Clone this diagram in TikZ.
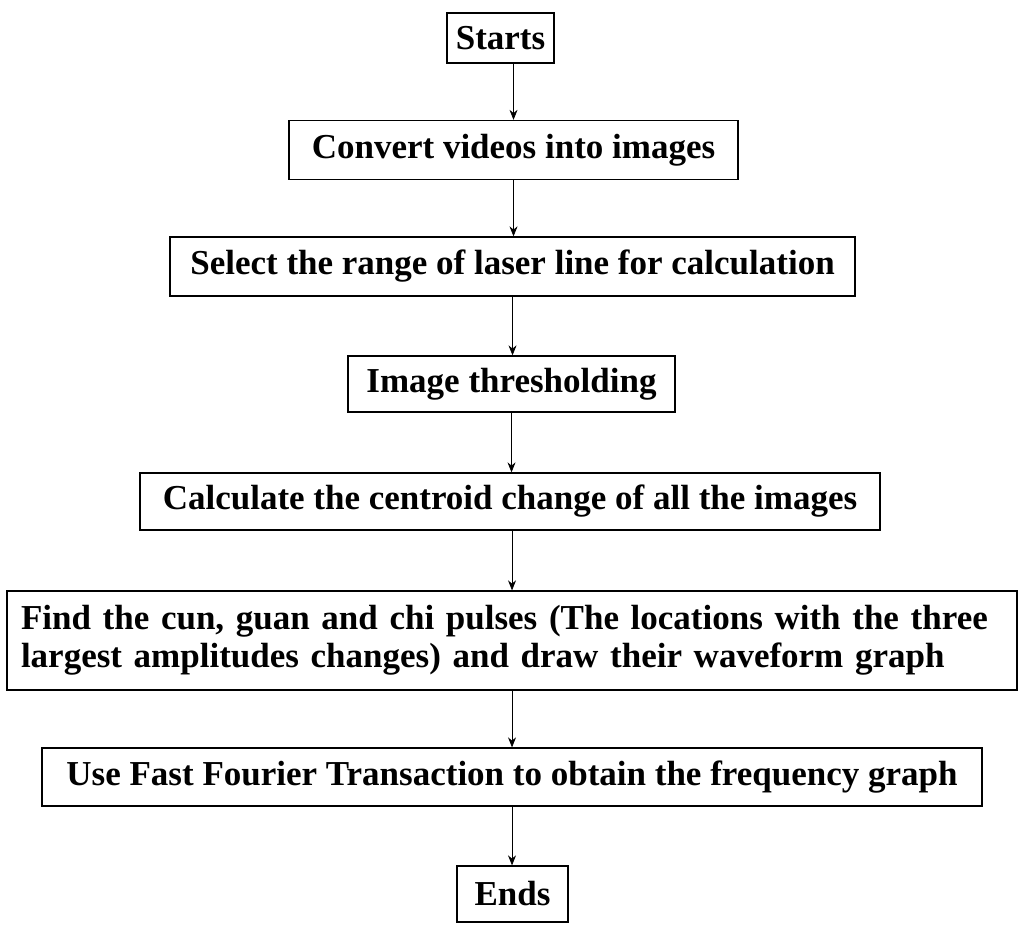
\documentclass[tikz,border=0pt]{standalone}
\usepackage{fontspec}
\setmainfont{Liberation Serif}
\usetikzlibrary{arrows.meta}
\begin{document}
\begin{tikzpicture}[x=1pt,y=-1pt,
 box/.style={draw,line width=1.3pt,font=\bfseries\fontsize{35}{38}\selectfont,inner sep=0pt,align=center},
 arr/.style={-{Stealth[length=10pt,width=8pt]},line width=0.8pt}]
\useasboundingbox (0,0) rectangle (1024,933);
\node[box,minimum width=107,minimum height=50] (s) at (500.5,38) {Starts};
\node[box,minimum width=449,minimum height=59] (c) at (513.5,150) {Convert videos into images};
\node[box,minimum width=685,minimum height=59] (r) at (512.5,266.5) {Select the range of laser line for calculation};
\node[box,minimum width=327,minimum height=56] (t) at (511.5,384) {Image thresholding};
\node[box,minimum width=740,minimum height=57] (k) at (510,501.5) {Calculate the centroid change of all the images};
\node[box,minimum width=1010,minimum height=99,align=left,text width=982] (f) at (512,640.5) {Find the cun, guan and chi pulses (The locations with the three\\largest amplitudes changes) and draw their waveform graph};
\node[box,minimum width=940,minimum height=58] (u) at (512,777) {Use Fast Fourier Transaction to obtain the frequency graph};
\node[box,minimum width=111,minimum height=56] (e) at (512.5,894) {Ends};
\draw[arr] (c.north |- s.south) -- (c.north);
\draw[arr] (c.south) -- (c.south |- r.north);
\draw[arr] (r.south) -- (r.south |- t.north);
\draw[arr] (t.south) -- (t.south |- k.north);
\draw[arr] (f.north |- k.south) -- (f.north);
\draw[arr] (f.south) -- (f.south |- u.north);
\draw[arr] (u.south) -- (u.south |- e.north);
\end{tikzpicture}
\end{document}
